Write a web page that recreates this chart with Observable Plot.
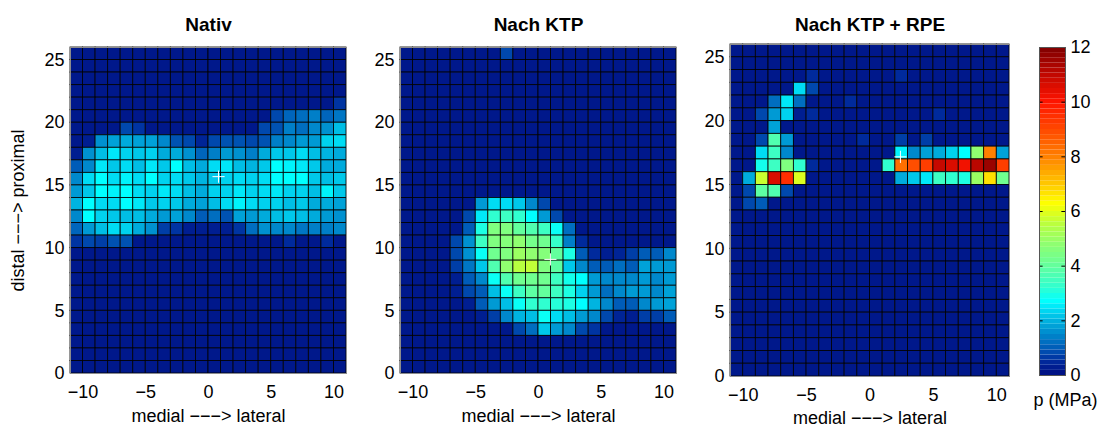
<!DOCTYPE html>
<html><head><meta charset="utf-8">
<script src="https://cdn.jsdelivr.net/npm/d3@7"></script>
<script src="https://cdn.jsdelivr.net/npm/@observablehq/plot@0.6"></script>
<style>
body{margin:0;background:#fff;}
#wrap{position:relative;width:1105px;height:428px;overflow:hidden;}
#wrap svg{position:absolute;top:0;overflow:visible;}
</style></head><body><div id="wrap"></div>
<script>
// ---- data: pressure p (MPa) per cell, rows listed from y=25..26 (top) down to y=0..1 (bottom),
// columns from x=-11..-10 (left) to x=10..11 (right)
const titles = ["Nativ", "Nach KTP", "Nach KTP + RPE"];
const xTicks = [-10, -5, 0, 5, 10];
const yTicks = [0, 5, 10, 15, 20, 25];
const cbTicks = [0, 2, 4, 6, 8, 10, 12];
const xLabel = "medial −−−> lateral";
const yLabel = "distal −−−> proximal";
const cbLabel = "p (MPa)";
const crossX = [0.8, 0.95, 2.4];
const crossY = [15.7, 9.1, 17.2];

const nativ = [
 [.2,.2,.2,.2,.2,.2,.2,.2,.2,.2,.2,.2,.2,.2,.2,.2,.2,.2,.2,.2,.2,.2],
 [.2,.2,.2,.2,.2,.2,.2,.2,.2,.2,.2,.2,.2,.2,.2,.2,.2,.2,.2,.2,.2,.2],
 [.2,.2,.2,.2,.2,.2,.2,.2,.2,.2,.2,.2,.2,.2,.2,.2,.2,.2,.2,.2,.2,.2],
 [.2,.2,.2,.2,.2,.2,.2,.2,.2,.2,.2,.2,.2,.2,.2,.2,.2,.2,.2,.2,.2,.2],
 [.2,.2,.2,.2,.2,.2,.2,.2,.2,.2,.2,.2,.2,.2,.2,.2,.2,.2,.2,.2,.2,.6],
 [.2,.2,.2,.2,.2,.2,.2,.2,.2,.2,.2,.2,.2,.2,.2,.2,.8,1.1,1.2,1.4,1.1,1.3],
 [.2,.2,.2,.2,.8,.6,.2,.2,.2,.2,.2,.2,.2,.2,.2,.8,.9,1.4,1.2,1.5,1.6,2.1],
 [.2,.3,1.6,1.8,1.9,1.8,1.8,1.5,.9,.8,.4,.8,.9,.9,.8,.9,1.4,1.5,1.7,1.7,2.3,2.4],
 [.3,1.6,2.1,2.5,2.3,2.2,2.3,1.9,1.9,1.6,1.1,1.4,1.7,1.6,1.4,1.9,2.2,2.2,2.4,2.1,2.0,1.9],
 [1.0,1.5,2.5,2.2,2.4,2.1,2.5,2.2,2.7,2.1,1.9,2.4,2.5,2.1,2.0,2.2,2.7,2.6,2.5,2.2,1.9,1.9],
 [1.5,2.4,2.7,2.4,2.6,2.4,2.7,2.3,2.4,2.2,2.0,2.2,2.3,2.4,2.3,2.4,2.7,2.7,2.7,2.2,2.1,2.2],
 [1.7,2.2,2.7,2.6,2.7,2.4,2.3,2.5,2.4,2.1,1.9,2.3,2.3,2.5,2.3,2.4,2.5,2.3,2.3,2.1,2.6,2.2],
 [2.0,2.7,2.4,2.4,2.7,2.5,2.2,2.3,2.2,1.9,1.8,2.1,2.4,2.6,2.4,2.3,2.3,2.1,2.2,1.9,1.9,1.8],
 [1.5,2.7,2.3,2.2,2.1,2.1,1.9,1.7,1.8,1.5,1.0,1.2,.9,1.8,1.7,1.9,2.1,2.2,2.1,1.9,1.7,1.6],
 [1.1,1.7,2.1,2.4,2.3,1.9,1.6,.7,.6,.3,.3,.3,.3,.6,1.2,1.6,1.5,1.5,1.3,1.4,1.4,1.5],
 [.6,.8,.7,.9,.9,.2,.2,.2,.2,.2,.2,.2,.2,.2,.2,.2,.2,.5,.2,.2,.5,.2],
 [.2,.2,.2,.2,.2,.2,.2,.2,.2,.2,.2,.2,.2,.2,.2,.2,.2,.2,.2,.2,.2,.2],
 [.2,.2,.2,.2,.2,.2,.2,.2,.2,.2,.2,.2,.2,.2,.2,.2,.2,.2,.2,.2,.2,.2],
 [.2,.2,.2,.2,.2,.2,.2,.2,.2,.2,.2,.2,.2,.2,.2,.2,.2,.2,.2,.2,.2,.2],
 [.2,.2,.2,.2,.2,.2,.2,.2,.2,.2,.2,.2,.2,.2,.2,.2,.2,.2,.2,.2,.2,.2],
 [.2,.2,.2,.2,.2,.2,.2,.2,.2,.2,.2,.2,.2,.2,.2,.2,.2,.2,.2,.2,.2,.2],
 [.2,.2,.2,.2,.2,.2,.2,.2,.2,.2,.2,.2,.2,.2,.2,.2,.2,.2,.2,.2,.2,.2],
 [.2,.2,.2,.2,.2,.2,.2,.2,.2,.2,.2,.2,.2,.2,.2,.2,.2,.2,.2,.2,.2,.2],
 [.2,.2,.2,.2,.2,.2,.2,.2,.2,.2,.2,.2,.2,.2,.2,.2,.2,.2,.2,.2,.2,.2],
 [.2,.2,.2,.2,.2,.2,.2,.2,.2,.2,.2,.2,.2,.2,.2,.2,.2,.2,.2,.2,.2,.2],
 [.2,.2,.2,.2,.2,.2,.2,.2,.2,.2,.2,.2,.2,.2,.2,.2,.2,.2,.2,.2,.2,.2]
];

const nachKTP = [
 [.2,.2,.2,.2,.2,.2,.2,.2,.8,.2,.2,.2,.2,.2,.2,.2,.2,.2,.2,.2,.2,.2],
 [.2,.2,.2,.2,.2,.2,.2,.2,.2,.2,.2,.2,.2,.2,.2,.2,.2,.2,.2,.2,.2,.2],
 [.2,.2,.2,.2,.2,.2,.2,.2,.2,.2,.2,.2,.2,.2,.2,.2,.2,.2,.2,.2,.2,.2],
 [.2,.2,.2,.2,.2,.2,.2,.2,.2,.2,.2,.2,.2,.2,.2,.2,.2,.2,.2,.2,.2,.2],
 [.2,.2,.2,.2,.2,.2,.2,.2,.2,.2,.2,.2,.2,.2,.2,.2,.2,.2,.2,.2,.2,.2],
 [.2,.2,.2,.2,.2,.2,.2,.2,.2,.2,.2,.2,.2,.2,.2,.2,.2,.2,.2,.2,.2,.2],
 [.2,.2,.2,.2,.2,.2,.2,.2,.2,.2,.2,.2,.2,.2,.2,.2,.2,.2,.2,.2,.2,.2],
 [.2,.2,.2,.2,.2,.2,.2,.2,.2,.2,.2,.2,.2,.2,.2,.2,.2,.2,.2,.2,.2,.2],
 [.2,.2,.2,.2,.2,.2,.2,.2,.2,.2,.2,.2,.2,.2,.2,.2,.2,.2,.2,.2,.2,.2],
 [.2,.2,.2,.2,.2,.2,.2,.2,.2,.2,.2,.2,.2,.2,.2,.2,.2,.2,.2,.2,.2,.2],
 [.2,.2,.2,.2,.2,.2,.2,.2,.2,.2,.2,.2,.2,.2,.2,.2,.2,.2,.2,.2,.2,.2],
 [.2,.2,.2,.2,.2,.2,.2,.2,.2,.2,.2,.2,.2,.2,.2,.2,.2,.2,.2,.2,.2,.2],
 [.2,.2,.2,.2,.2,.2,1.7,2.4,2.4,2.2,1.5,.8,.2,.2,.2,.2,.2,.2,.2,.2,.2,.2],
 [.2,.2,.2,.2,.2,.8,2.5,3.2,3.4,3.2,2.7,1.7,.8,.2,.2,.2,.2,.2,.2,.2,.2,.2],
 [.2,.2,.2,.2,.2,1.0,3.0,4.5,4.5,4.0,3.7,3.4,2.8,1.2,.2,.2,.2,.2,.2,.2,.2,.2],
 [.2,.2,.2,.2,.8,1.6,3.4,4.5,4.6,4.8,4.3,4.2,3.3,1.4,.5,.2,.2,.2,.2,.2,.2,.2],
 [.2,.2,.2,.2,.8,1.6,2.8,4.2,4.5,5.0,4.8,4.6,4.0,3.0,1.0,.5,.3,.4,.7,1.0,1.0,1.5],
 [.2,.2,.2,.2,.7,1.3,2.2,3.7,4.8,5.5,5.6,4.5,3.9,2.2,1.5,1.0,1.0,1.2,1.0,1.8,1.7,1.7],
 [.2,.2,.2,.2,.3,1.0,1.5,2.8,3.7,4.2,4.2,4.2,3.4,2.9,2.7,1.7,1.5,1.5,1.5,1.7,1.5,1.7],
 [.2,.2,.2,.2,.3,.8,1.0,2.1,2.8,3.4,3.9,4.0,3.4,3.0,2.3,1.7,1.2,1.5,1.7,1.7,1.5,1.8],
 [.2,.2,.2,.2,.2,.3,1.0,1.7,2.1,2.8,3.2,3.2,3.1,3.0,2.7,2.0,1.5,1.0,1.0,1.5,1.7,1.8],
 [.2,.2,.2,.2,.2,.2,.3,.7,1.5,2.0,2.1,2.8,2.4,2.1,1.7,1.5,.8,.4,.3,.7,.7,1.0],
 [.2,.2,.2,.2,.2,.2,.2,.2,.2,.8,1.2,2.2,1.7,1.5,.8,.6,.2,.2,.2,.2,.2,.2],
 [.2,.2,.2,.2,.2,.2,.2,.2,.2,.2,.2,.2,.2,.2,.2,.2,.2,.2,.2,.2,.2,.2],
 [.2,.2,.2,.2,.2,.2,.2,.2,.2,.2,.2,.2,.2,.2,.2,.2,.2,.2,.2,.2,.2,.2],
 [.2,.2,.2,.2,.2,.2,.2,.2,.2,.2,.2,.2,.2,.2,.2,.2,.2,.2,.2,.2,.2,.2]
];

const nachKTPRPE = [
 [.2,.2,.2,.2,.2,.2,.2,.2,.2,.2,.2,.2,.2,.2,.2,.2,.2,.2,.2,.2,.2,.2],
 [.2,.2,.2,.2,.2,.2,.2,.2,.2,.2,.2,.2,.2,.2,.2,.2,.2,.2,.2,.2,.2,.2],
 [.2,.2,.2,.2,.2,.2,.5,.2,.2,.2,.2,.2,.2,.5,.2,.2,.2,.2,.2,.2,.2,.2],
 [.2,.2,.2,.2,.2,2.4,.8,.2,.2,.2,.2,.2,.2,.2,.2,.2,.2,.2,.2,.2,.2,.2],
 [.2,.2,.2,1.2,2.5,1.2,.2,.2,.2,.5,.2,.2,.2,.2,.2,.2,.2,.2,.2,.2,.2,.2],
 [.2,.2,.8,1.7,2.3,.3,.5,.2,.2,.2,.2,.2,.2,.2,.2,.2,.5,.2,.2,.2,.2,.2],
 [.2,.2,.2,1.8,.2,.2,.2,.2,.2,.2,.2,.2,.2,.2,.2,.2,.2,.2,.2,.2,.2,.2],
 [.2,.2,.8,3.7,1.7,.2,.2,.2,.2,.2,.5,.2,.2,.7,.2,.7,.2,.2,.2,.2,.2,.2],
 [.2,.2,2.4,3.4,1.5,.2,.2,.2,.2,.2,.2,.2,.2,2.6,1.5,1.8,1.9,2.3,2.7,4.8,8.0,1.8],
 [.2,.2,2.9,3.4,4.5,3.2,.5,.2,.2,.2,.2,.2,3.2,8.3,8.9,9.2,10.9,10.6,10.2,11.1,11.6,9.2],
 [.2,1.9,5.7,10.6,9.5,5.9,.2,.2,.2,.2,.2,.2,.2,1.9,2.2,2.5,3.4,3.2,3.0,5.0,6.7,4.2],
 [.2,.8,3.9,3.7,.8,.2,.2,.2,.2,.2,.2,.2,.2,.2,.2,.2,.2,.2,.2,.2,.2,.2],
 [.2,.8,1.0,.2,.2,.2,.2,.2,.2,.2,.2,.2,.2,.2,.2,.2,.2,.2,.2,.2,.2,.2],
 [.2,.2,.2,.2,.2,.2,.2,.2,.2,.2,.2,.2,.2,.2,.2,.2,.2,.2,.2,.2,.2,.2],
 [.2,.2,.2,.2,.2,.2,.2,.2,.2,.2,.2,.2,.2,.2,.2,.2,.2,.2,.2,.2,.2,.2],
 [.2,.2,.2,.2,.2,.2,.2,.2,.2,.2,.2,.2,.2,.2,.2,.2,.2,.2,.2,.2,.2,.2],
 [.2,.2,.2,.2,.2,.2,.2,.2,.2,.2,.2,.2,.2,.2,.2,.2,.2,.2,.2,.2,.2,.2],
 [.2,.2,.2,.2,.2,.2,.2,.2,.2,.2,.2,.2,.2,.2,.2,.2,.2,.2,.2,.2,.2,.2],
 [.2,.2,.2,.2,.2,.2,.2,.2,.2,.2,.2,.2,.2,.2,.2,.2,.2,.2,.2,.2,.2,.2],
 [.2,.2,.2,.2,.2,.2,.2,.2,.2,.2,.2,.2,.2,.2,.2,.2,.2,.2,.2,.2,.2,.2],
 [.2,.2,.2,.2,.2,.2,.2,.2,.2,.2,.2,.2,.2,.2,.2,.2,.2,.2,.2,.2,.2,.2],
 [.2,.2,.2,.2,.2,.2,.2,.2,.2,.2,.2,.2,.2,.2,.2,.2,.2,.2,.2,.2,.2,.2],
 [.2,.2,.2,.2,.2,.2,.2,.2,.2,.2,.2,.2,.2,.2,.2,.2,.2,.2,.2,.2,.2,.2],
 [.2,.2,.2,.2,.2,.2,.2,.2,.2,.2,.2,.2,.2,.2,.2,.2,.2,.2,.2,.2,.2,.2],
 [.2,.2,.2,.2,.2,.2,.2,.2,.2,.2,.2,.2,.2,.2,.2,.2,.2,.2,.2,.2,.2,.2],
 [.2,.2,.2,.2,.2,.2,.2,.2,.2,.2,.2,.2,.2,.2,.2,.2,.2,.2,.2,.2,.2,.2]
];

// jet-like colormap as it appears in the figure
const colorStops = [0, 0.5, 1.0, 1.5, 2.0, 2.4, 2.7, 3.2, 3.7, 4.2, 4.8, 5.5, 6.3, 7.0, 8.0, 9.0, 10.0, 11.0, 12.0];
const colorRange = ["#000c80","#002a9c","#005cb8","#0088cc","#00b4e0","#00dcf4","#00ffff","#30ffd0","#50ffb0","#70ff90","#90ff70","#b8ff40","#ffff00","#ffc800","#ff8000","#ff4800","#ff1400","#c00800","#800000"];

const FONT = "'Liberation Sans', Arial, Helvetica, sans-serif";
const colorScale = {type: "linear", domain: colorStops, range: colorRange, interpolate: "rgb", clamp: true};
const wrap = document.getElementById("wrap");

function toCells(rows) {
  const cells = [];
  rows.forEach((row, i) => row.forEach((v, j) => {
    cells.push({x1: -11 + j, x2: -10 + j, y1: rows.length - 1 - i, y2: rows.length - i, v});
  }));
  return cells;
}

function panel(k, rows, L) {
  const marks = [
    Plot.rect(toCells(rows), {x1: "x1", x2: "x2", y1: "y1", y2: "y2", fill: "v", stroke: "#000", strokeWidth: 0.9, strokeOpacity: 0.9}),
    Plot.frame({stroke: "#8c8c8c", strokeWidth: 1}),
    Plot.axisX({ticks: xTicks, tickSize: 0, tickPadding: L.xPad, fontSize: 18, label: null}),
    Plot.axisY({ticks: yTicks, tickSize: 0, tickPadding: 6, fontSize: 18, label: null}),
    Plot.text([titles[k]], {frameAnchor: "top", lineAnchor: "middle", dy: L.titleDy, fontSize: 19, fontWeight: "bold", fill: "#000"}),
    Plot.text([xLabel], {frameAnchor: "bottom", lineAnchor: "middle", dy: L.xLabDy, fontSize: 18, fill: "#000"}),
    Plot.dot([{x: crossX[k], y: crossY[k]}], {x: "x", y: "y", symbol: "plus", r: 4, stroke: "#fff", strokeWidth: 1})
  ];
  if (k === 0) marks.push(Plot.text([yLabel], {frameAnchor: "left", textAnchor: "middle", lineAnchor: "middle", dx: -52, rotate: -90, fontSize: 18, fill: "#000"}));
  const svg = Plot.plot({
    width: L.width, height: 428,
    marginLeft: L.ml, marginRight: L.mr, marginTop: L.mt, marginBottom: L.mb,
    style: {fontFamily: FONT, fontSize: "18px", color: "#000", background: "transparent", overflow: "visible"},
    x: {domain: [-11, 11]},
    y: {domain: [0, 26]},
    color: colorScale,
    marks
  });
  svg.style.left = L.left + "px";
  wrap.append(svg);
}

panel(0, nativ,      {left: 0,   width: 372, ml: 70, mr: 26, mt: 47, mb: 55, xPad: 12, titleDy: -23, xLabDy: 43});
panel(1, nachKTP,    {left: 372, width: 330, ml: 28, mr: 26, mt: 47, mb: 55, xPad: 12, titleDy: -23, xLabDy: 43});
panel(2, nachKTPRPE, {left: 702, width: 323, ml: 28, mr: 16, mt: 44, mb: 52, xPad: 12, titleDy: -20, xLabDy: 42});

// colorbar (64 levels, as in MATLAB)
const nLevels = 64;
const levels = d3.range(nLevels).map(i => ({y1: i * 12 / nLevels, y2: (i + 1) * 12 / nLevels, v: (i + 0.5) * 12 / nLevels}));
const innerTicks = cbTicks.filter(t => t > 0 && t < 12);
const cb = Plot.plot({
  width: 80, height: 428, marginLeft: 14, marginRight: 40, marginTop: 47, marginBottom: 53,
  style: {fontFamily: FONT, fontSize: "18px", color: "#000", background: "transparent", overflow: "visible"},
  x: {domain: [0, 1], axis: null},
  y: {domain: [0, 12]},
  color: colorScale,
  marks: [
    Plot.rect(levels, {x1: 0, x2: 1, y1: "y1", y2: "y2", fill: "v"}),
    Plot.ruleY(innerTicks, {x1: 0, x2: 0.14, stroke: "#000", strokeWidth: 1}),
    Plot.ruleY(innerTicks, {x1: 0.86, x2: 1, stroke: "#000", strokeWidth: 1}),
    Plot.frame({stroke: "#555", strokeWidth: 1}),
    Plot.axisY({anchor: "right", ticks: cbTicks, tickSize: 0, tickPadding: 5, fontSize: 18, label: null}),
    Plot.text([cbLabel], {frameAnchor: "bottom", lineAnchor: "middle", dx: 13, dy: 25, fontSize: 18, fill: "#000"})
  ]
});
cb.style.left = "1025px";
wrap.append(cb);
</script></body></html>
